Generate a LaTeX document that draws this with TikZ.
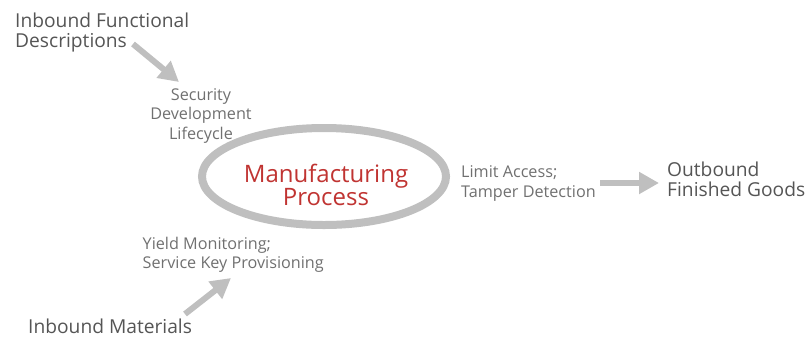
\documentclass[tikz,border=0pt]{standalone}
\usepackage{fontspec}
\setmainfont{Open Sans}
\usetikzlibrary{arrows.meta,shapes.geometric}
\definecolor{arrowgray}{RGB}{191,191,191}
\definecolor{darktext}{RGB}{85,85,85}
\definecolor{lighttext}{RGB}{112,112,112}
\definecolor{procred}{RGB}{192,52,50}
\tikzset{
  biglabel/.style={font=\fontsize{19.2}{20}\selectfont, text=darktext, inner sep=0pt},
  smalllabel/.style={font=\fontsize{16.2}{19.5}\selectfont, text=lighttext, inner sep=0pt},
  flowarrow/.style={draw=arrowgray, line width=6pt, -{Triangle[width=21pt,length=20pt]}},
  ringstyle/.style={draw=arrowgray, line width=8pt}
}
\begin{document}
\begin{tikzpicture}[x=1pt,y=-1pt]
\useasboundingbox (0,0) rectangle (808,341);
% ring
\node[ringstyle, ellipse, minimum width=244pt, minimum height=97pt, inner sep=0pt] (ring) at (324,176.5) {};
\node[font=\fontsize{24}{23.5}\selectfont, text=procred, align=center, inner sep=0pt] (proc) at (326,185) {Manufacturing\\Process};
% labels
\node[biglabel, anchor=base west] (ifd) at (15,27) {Inbound Functional};
\node[biglabel, anchor=base west] (ifd2) at (15,47.5) {Descriptions};
\node[smalllabel, align=center, anchor=north] (sdl) at (201,88) {Security\\Development\\Lifecycle};
\node[smalllabel, align=left, anchor=north west] (lat) at (461,165.7) {Limit Access;\\Tamper Detection};
\node[biglabel, align=left, anchor=north west] (ofg) at (667,161.4) {Outbound\\Finished Goods};
\node[smalllabel, align=left, anchor=north west] (ymk) at (142.5,236.7) {Yield Monitoring;\\Service Key Provisioning};
\node[biglabel, anchor=base west] (inm) at (28,333) {Inbound Materials};
% arrow ends
\coordinate (a1s) at (133,44);
\coordinate (a1e) at (179,82);
\coordinate (a2s) at (600,183);
\coordinate (a2e) at (659,183);
\coordinate (a3s) at (185,314);
\coordinate (a3e) at (231,278);
\draw[flowarrow] (a1s) -- (a1e);
\draw[flowarrow] (a2s) -- (a2e);
\draw[flowarrow] (a3s) -- (a3e);
\end{tikzpicture}
\end{document}
